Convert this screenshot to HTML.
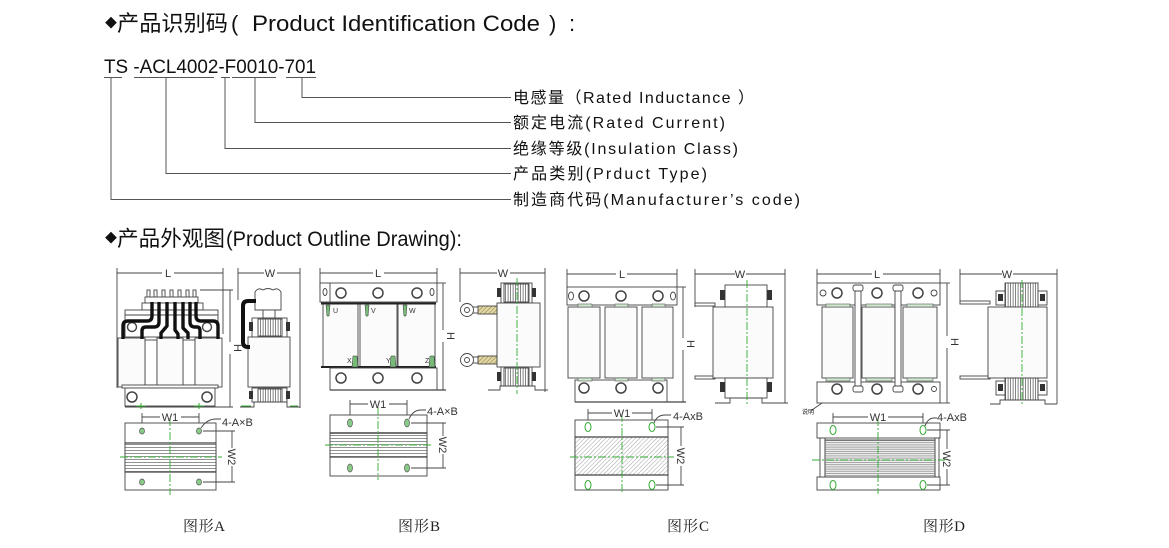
<!DOCTYPE html>
<html><head><meta charset="utf-8">
<style>
html,body{margin:0;padding:0;background:#fff;}
svg{display:block;}
.s{font-family:"Liberation Sans","Noto Sans CJK SC",sans-serif;fill:#111;}
.f{font-family:"Liberation Serif","Noto Serif CJK SC",serif;fill:#222;}
.d{font-family:"Liberation Sans",sans-serif;fill:#333;font-size:11px;stroke:none;}
</style></head><body>
<svg width="1169" height="548" viewBox="0 0 1169 548" xmlns="http://www.w3.org/2000/svg">
<defs>
<pattern id="vh" width="2.5" height="10" patternUnits="userSpaceOnUse"><rect width="2.5" height="10" fill="#fff"/><line x1="0.6" y1="0" x2="0.6" y2="10" stroke="#666" stroke-width="0.8"/></pattern>
<pattern id="hh" width="10" height="3" patternUnits="userSpaceOnUse"><rect width="10" height="3" fill="#fff"/><line x1="0" y1="0.6" x2="10" y2="0.6" stroke="#777" stroke-width="0.8"/></pattern>
<pattern id="hh2" width="10" height="2.2" patternUnits="userSpaceOnUse"><rect width="10" height="2.2" fill="#eee"/><line x1="0" y1="0.5" x2="10" y2="0.5" stroke="#888" stroke-width="0.7"/></pattern>
<pattern id="dh" width="3" height="3" patternUnits="userSpaceOnUse" patternTransform="rotate(45)"><rect width="3" height="3" fill="#fff"/><line x1="0" y1="0" x2="0" y2="3" stroke="#999" stroke-width="0.9"/></pattern>
<pattern id="br" width="3" height="3" patternUnits="userSpaceOnUse" patternTransform="rotate(45)"><rect width="3" height="3" fill="#e4d79c"/><line x1="0" y1="0" x2="0" y2="3" stroke="#666" stroke-width="0.8"/></pattern>
</defs>

<!-- ===== Text section ===== -->
<text class="s" x="105" y="27" font-size="12">◆</text>
<text class="s" x="117" y="31" font-size="22" textLength="111" lengthAdjust="spacingAndGlyphs">产品识别码</text>
<text class="s" x="231" y="31" font-size="22">(</text>
<text class="s" x="252" y="31" font-size="22" textLength="288" lengthAdjust="spacingAndGlyphs">Product Identification Code</text>
<text class="s" x="549" y="31" font-size="22">)</text>
<text class="s" x="569" y="31" font-size="22">:</text>

<text class="s" x="104" y="73" font-size="19" textLength="212" lengthAdjust="spacingAndGlyphs">TS -ACL4002-F0010-701</text>
<g stroke="#555" stroke-width="1" fill="none">
<line x1="104" y1="77.5" x2="122" y2="77.5"/>
<line x1="134" y1="77.5" x2="214" y2="77.5"/>
<line x1="221" y1="77.5" x2="230" y2="77.5"/>
<line x1="232" y1="77.5" x2="276" y2="77.5"/>
<line x1="286" y1="77.5" x2="316" y2="77.5"/>
<polyline points="302,78 302,97.5 511,97.5"/>
<polyline points="255,78 255,122.5 511,122.5"/>
<polyline points="225,78 225,148.5 511,148.5"/>
<polyline points="166,78 166,173.5 511,173.5"/>
<polyline points="111,78 111,199.5 511,199.5"/>
</g>
<text class="s" x="513" y="103" font-size="16" textLength="241" lengthAdjust="spacing">电感量（Rated Inductance ）</text>
<text class="s" x="513" y="128" font-size="16" textLength="212" lengthAdjust="spacing">额定电流(Rated Current)</text>
<text class="s" x="513" y="154" font-size="16" textLength="225" lengthAdjust="spacing">绝缘等级(Insulation Class)</text>
<text class="s" x="513" y="179" font-size="16" textLength="194" lengthAdjust="spacing">产品类别(Prduct Type)</text>
<text class="s" x="513" y="205" font-size="16" textLength="287" lengthAdjust="spacing">制造商代码(Manufacturer’s code)</text>

<text class="s" x="105" y="242" font-size="12">◆</text>
<text class="s" x="117" y="246" font-size="21.5" textLength="108" lengthAdjust="spacingAndGlyphs">产品外观图</text>
<text class="s" x="226" y="246" font-size="21" textLength="236" lengthAdjust="spacingAndGlyphs">(Product Outline Drawing):</text>

<!-- ===== Figure labels ===== -->
<text class="f" x="183" y="531" font-size="15" textLength="42">图形A</text>
<text class="f" x="398" y="531" font-size="15" textLength="42">图形B</text>
<text class="f" x="667" y="531" font-size="15" textLength="42">图形C</text>
<text class="f" x="923" y="531" font-size="15" textLength="42">图形D</text>

<!-- ===== Drawing A ===== -->
<g stroke="#444" stroke-width="0.9" fill="#fff">
 <line x1="117" y1="268" x2="117" y2="388"/>
 <line x1="223" y1="268" x2="223" y2="334"/>
 <line x1="117" y1="273" x2="162" y2="273"/>
 <line x1="174" y1="273" x2="223" y2="273"/>
 <line x1="200" y1="290" x2="233" y2="290"/>
 <line x1="230" y1="290" x2="230" y2="342"/>
 <line x1="230" y1="354" x2="230" y2="407"/>
 <line x1="125" y1="407" x2="233" y2="407"/>
 <rect x="147" y="290" width="3" height="7"/>
 <rect x="154" y="290" width="3" height="7"/>
 <rect x="162" y="290" width="3" height="7"/>
 <rect x="170" y="290" width="3" height="7"/>
 <rect x="178" y="290" width="3" height="7"/>
 <rect x="186" y="290" width="3" height="7"/>
 <rect x="193" y="290" width="3" height="7"/>
 <rect x="145" y="297" width="53" height="6"/>
 <rect x="142" y="303" width="61" height="7"/>
 <rect x="125" y="310" width="93" height="27"/>
 <line x1="125" y1="315" x2="218" y2="315"/>
 <circle cx="132" cy="327" r="4.5" stroke-width="1.4"/>
 <circle cx="207" cy="327" r="4.5" stroke-width="1.4"/>
 <rect x="145" y="340" width="12" height="45"/>
 <rect x="183" y="340" width="12" height="45"/>
 <rect x="118" y="338" width="27" height="49" fill="#fbfbfb"/>
 <rect x="157" y="338" width="26" height="49" fill="#fbfbfb"/>
 <rect x="195" y="338" width="27" height="49" fill="#fbfbfb"/>
 <rect x="122" y="385" width="96" height="3"/>
 <rect x="125" y="388" width="90" height="18"/>
 <circle cx="132" cy="397" r="5" stroke-width="1.5"/>
 <circle cx="207" cy="397" r="5" stroke-width="1.5"/>
</g>
<g stroke="#111" stroke-width="3.4" fill="none" stroke-linejoin="round">
 <path d="M152 302 V316 Q152 321 147 321 H128 Q123 321 123 326 V339"/>
 <path d="M159 302 V322 Q159 327 154 327 H146 Q142 327 142 331 V339"/>
 <path d="M167 302 V326 L161 333 V339"/>
 <path d="M175 302 V330 L178 334 V339"/>
 <path d="M183 302 V328 L188 333 V339"/>
 <path d="M190 302 V322 Q190 327 195 327 H197 Q200 327 200 331 V339"/>
 <path d="M196 302 V316 Q196 321 201 321 H213 Q218 321 218 326 V339"/>
</g>
<text class="d" x="168" y="277" text-anchor="middle">L</text>
<text class="d" x="0" y="0" text-anchor="middle" transform="translate(234,348) rotate(90)">H</text>
<g stroke="#444" stroke-width="0.9" fill="#fff">
 <line x1="238" y1="268" x2="238" y2="300"/>
 <line x1="300" y1="268" x2="300" y2="408"/>
 <line x1="238" y1="273" x2="264" y2="273"/>
 <line x1="277" y1="273" x2="300" y2="273"/>
 <path d="M255 292 Q258 287 263 290 Q268 287 273 290 Q278 287 281 292 L281 310 L255 310 Z"/>
 <rect x="263" y="310" width="12" height="8"/>
 <rect x="252" y="318" width="35" height="19"/>
 <rect x="258" y="319" width="24" height="17" fill="url(#vh)"/>
 <rect x="248" y="337" width="42" height="50" fill="#fbfbfb"/>
 <rect x="252" y="388" width="35" height="14"/>
 <rect x="258" y="389" width="24" height="13" fill="url(#vh)"/>
 <polyline points="240,407 254,407 254,402 287,402 287,407 300,407"/>
</g>
<g fill="#333">
 <rect x="249" y="322" width="4" height="9"/><rect x="286" y="322" width="4" height="9"/>
 <rect x="249" y="391" width="4" height="8"/><rect x="286" y="391" width="4" height="8"/>
</g>
<path d="M256 301 H248 Q243 301 243 306 V342 Q243 347 248 347 H250" stroke="#111" stroke-width="4" fill="none"/>
<text class="d" x="270" y="277" text-anchor="middle">W</text>
<g stroke="#3a3" stroke-width="1" fill="none">
 <line x1="136" y1="406" x2="146" y2="406"/><line x1="141" y1="403" x2="141" y2="409"/>
 <line x1="194" y1="406" x2="204" y2="406"/><line x1="199" y1="403" x2="199" y2="409"/>
 <line x1="241" y1="406" x2="251" y2="406"/><line x1="290" y1="406" x2="298" y2="406"/>
</g>
<g stroke="#444" stroke-width="0.9" fill="#fff">
 <line x1="142" y1="413" x2="142" y2="428"/>
 <line x1="199" y1="413" x2="199" y2="428"/>
 <line x1="142" y1="417" x2="160" y2="417"/>
 <line x1="181" y1="417" x2="199" y2="417"/>
 <rect x="125" y="423" width="91" height="67"/>
 <rect x="125" y="443" width="91" height="29" fill="url(#hh)"/>
 <line x1="125" y1="443" x2="216" y2="443" stroke-width="1.3"/>
 <line x1="125" y1="472" x2="216" y2="472" stroke-width="1.3"/>
 <line x1="203" y1="431" x2="235" y2="431"/>
 <line x1="203" y1="482" x2="235" y2="482"/>
 <line x1="232" y1="431" x2="232" y2="448"/>
 <line x1="232" y1="466" x2="232" y2="482"/>
 <path d="M201 428 Q207 419 216 419 H221" fill="none"/>
</g>
<g stroke="#3a3" stroke-width="0.9" stroke-dasharray="8 2 2 2" fill="none">
 <line x1="170" y1="418" x2="170" y2="495"/>
 <line x1="120" y1="457" x2="222" y2="457"/>
</g>
<g fill="#8c8" stroke="#555" stroke-width="0.7">
 <ellipse cx="142" cy="431" rx="2.5" ry="3"/><ellipse cx="199" cy="431" rx="2.5" ry="3"/>
 <ellipse cx="142" cy="482" rx="2.5" ry="3"/><ellipse cx="199" cy="482" rx="2.5" ry="3"/>
</g>
<text class="d" x="170" y="421" text-anchor="middle">W1</text>
<text class="d" x="222" y="426">4-A×B</text>
<text class="d" x="0" y="0" text-anchor="middle" transform="translate(228,457) rotate(90)">W2</text>

<!-- ===== Drawing B ===== -->
<g stroke="#444" stroke-width="0.9" fill="#fff">
 <line x1="320" y1="268" x2="320" y2="290"/>
 <line x1="437" y1="268" x2="437" y2="283"/>
 <line x1="320" y1="273" x2="373" y2="273"/>
 <line x1="384" y1="273" x2="437" y2="273"/>
 <rect x="320" y="283" width="117" height="19"/>
 <line x1="330" y1="283" x2="330" y2="302"/>
 <circle cx="341" cy="293" r="5" stroke-width="1.5"/>
 <circle cx="378" cy="293" r="5" stroke-width="1.5"/>
 <circle cx="417" cy="293" r="5" stroke-width="1.5"/>
 <ellipse cx="325" cy="292" rx="2" ry="3.5"/>
 <ellipse cx="432" cy="292" rx="2" ry="3.5"/>
 <rect x="323" y="304" width="35" height="63" fill="#fbfbfb"/>
 <rect x="360" y="304" width="37" height="63" fill="#fbfbfb"/>
 <rect x="398" y="304" width="37" height="63" fill="#fbfbfb"/>
 <line x1="321" y1="303.5" x2="436" y2="303.5" stroke="#222" stroke-width="2"/>
 <line x1="321" y1="367" x2="436" y2="367" stroke="#222" stroke-width="2"/>
 <rect x="330" y="368" width="107" height="22"/>
 <circle cx="341" cy="378" r="5" stroke-width="1.5"/>
 <circle cx="378" cy="378" r="5" stroke-width="1.5"/>
 <circle cx="417" cy="378" r="5" stroke-width="1.5"/>
 <line x1="330" y1="390" x2="446" y2="390" stroke-width="1.3"/>
 <line x1="437" y1="283" x2="446" y2="283"/>
 <line x1="443" y1="283" x2="443" y2="330"/>
 <line x1="443" y1="342" x2="443" y2="390"/>
</g>
<g fill="#7b7" stroke="#333" stroke-width="0.5">
 <path d="M326 305 h4 l-1 11 h-2 z"/><path d="M365 305 h4 l-1 11 h-2 z"/><path d="M403 305 h4 l-1 11 h-2 z"/>
 <path d="M353 356 h4 l1 11 h-6 z"/><path d="M391 356 h4 l1 11 h-6 z"/><path d="M430 356 h4 l1 11 h-6 z"/>
</g>
<g class="d" style="font-size:7px">
 <text x="333" y="313">U</text><text x="371" y="313">V</text><text x="409" y="313">W</text>
 <text x="347" y="363">X</text><text x="386" y="363">Y</text><text x="425" y="363">Z</text>
</g>
<text class="d" x="378" y="277" text-anchor="middle">L</text>
<text class="d" x="0" y="0" text-anchor="middle" transform="translate(447,336) rotate(90)">H</text>
<g stroke="#444" stroke-width="0.9" fill="#fff">
 <line x1="460" y1="268" x2="460" y2="302"/>
 <line x1="545" y1="268" x2="545" y2="392"/>
 <line x1="460" y1="273" x2="497" y2="273"/>
 <line x1="510" y1="273" x2="545" y2="273"/>
 <rect x="501" y="283" width="31" height="20"/>
 <rect x="504" y="284" width="25" height="18" fill="url(#vh)"/>
 <rect x="497" y="303" width="43" height="64" fill="#fbfbfb"/>
 <rect x="501" y="367" width="31" height="21"/>
 <rect x="504" y="368" width="25" height="19" fill="url(#vh)"/>
 <polyline points="488,390 500,390 500,386 535,386 535,390 548,390"/>
 <rect x="472" y="307" width="7" height="6"/>
 <rect x="478" y="306" width="19" height="8" fill="url(#br)"/>
 <circle cx="467" cy="310" r="6.5"/><circle cx="467" cy="310" r="2.5"/>
 <rect x="472" y="357" width="7" height="6"/>
 <rect x="478" y="356" width="19" height="8" fill="url(#br)"/>
 <circle cx="467" cy="360" r="6.5"/><circle cx="467" cy="360" r="2.5"/>
</g>
<g fill="#333">
 <rect x="497" y="288" width="4" height="9"/><rect x="532" y="288" width="4" height="9"/>
 <rect x="497" y="372" width="4" height="9"/><rect x="532" y="372" width="4" height="9"/>
</g>
<line x1="517" y1="278" x2="517" y2="394" stroke="#3a3" stroke-width="0.9" stroke-dasharray="8 2 2 2"/>
<text class="d" x="503" y="277" text-anchor="middle">W</text>
<g stroke="#444" stroke-width="0.9" fill="#fff">
 <line x1="350" y1="400" x2="350" y2="419"/>
 <line x1="407" y1="400" x2="407" y2="419"/>
 <line x1="350" y1="404" x2="368" y2="404"/>
 <line x1="389" y1="404" x2="407" y2="404"/>
 <rect x="330" y="415" width="97" height="61"/>
 <rect x="330" y="433" width="97" height="24" fill="url(#hh)"/>
 <line x1="330" y1="433" x2="427" y2="433" stroke-width="1.4"/>
 <line x1="330" y1="457" x2="427" y2="457" stroke-width="1.2"/>
 <line x1="411" y1="423" x2="446" y2="423"/>
 <line x1="411" y1="468" x2="446" y2="468"/>
 <line x1="443" y1="423" x2="443" y2="436"/>
 <line x1="443" y1="454" x2="443" y2="468"/>
 <path d="M409 419 Q413 410 421 410 H426" fill="none"/>
</g>
<g stroke="#3a3" stroke-width="0.9" stroke-dasharray="8 2 2 2" fill="none">
 <line x1="378" y1="407" x2="378" y2="480"/>
 <line x1="325" y1="445" x2="433" y2="445"/>
</g>
<g fill="#8c8" stroke="#555" stroke-width="0.7">
 <ellipse cx="350" cy="423" rx="2.5" ry="4"/><ellipse cx="407" cy="423" rx="2.5" ry="4"/>
 <ellipse cx="350" cy="468" rx="2.5" ry="4"/><ellipse cx="407" cy="468" rx="2.5" ry="4"/>
</g>
<text class="d" x="378" y="408" text-anchor="middle">W1</text>
<text class="d" x="427" y="415">4-A×B</text>
<text class="d" x="0" y="0" text-anchor="middle" transform="translate(439,445) rotate(90)">W2</text>

<!-- ===== Drawing C ===== -->
<g stroke="#444" stroke-width="0.9" fill="#fff">
 <line x1="567" y1="269" x2="567" y2="287"/>
 <line x1="677" y1="269" x2="677" y2="287"/>
 <line x1="567" y1="274" x2="616" y2="274"/>
 <line x1="627" y1="274" x2="677" y2="274"/>
 <rect x="567" y="287" width="110" height="18"/>
 <circle cx="584" cy="296" r="5" stroke-width="1.5"/>
 <circle cx="621" cy="296" r="5" stroke-width="1.5"/>
 <circle cx="658" cy="296" r="5" stroke-width="1.5"/>
 <ellipse cx="571" cy="296" rx="2.5" ry="4"/>
 <ellipse cx="673" cy="296" rx="2.5" ry="4"/>
 <rect x="568" y="307" width="32" height="71" fill="#fbfbfb"/>
 <rect x="605" y="307" width="32" height="71" fill="#fbfbfb"/>
 <rect x="642" y="307" width="31" height="71" fill="#fbfbfb"/>
 <rect x="575" y="380" width="92" height="22"/>
 <circle cx="584" cy="388" r="5" stroke-width="1.5"/>
 <circle cx="621" cy="388" r="5" stroke-width="1.5"/>
 <circle cx="658" cy="388" r="5" stroke-width="1.5"/>
 <line x1="575" y1="402" x2="686" y2="402" stroke-width="1.2"/>
 <line x1="677" y1="287" x2="686" y2="287"/>
 <line x1="683" y1="287" x2="683" y2="338"/>
 <line x1="683" y1="350" x2="683" y2="402"/>
</g>
<g fill="#cfe8cf" stroke="#555" stroke-width="0.6">
 <rect x="578" y="304" width="14" height="3"/><rect x="615" y="304" width="13" height="3"/><rect x="652" y="304" width="13" height="3"/>
 <rect x="578" y="378" width="14" height="3"/><rect x="615" y="378" width="13" height="3"/><rect x="652" y="378" width="13" height="3"/>
</g>
<text class="d" x="622" y="278" text-anchor="middle">L</text>
<text class="d" x="0" y="0" text-anchor="middle" transform="translate(687,344) rotate(90)">H</text>
<g stroke="#444" stroke-width="0.9" fill="#fff">
 <line x1="695" y1="269" x2="695" y2="307"/>
 <line x1="785" y1="269" x2="785" y2="403"/>
 <line x1="695" y1="274" x2="735" y2="274"/>
 <line x1="746" y1="274" x2="785" y2="274"/>
 <rect x="695" y="303" width="20" height="3"/>
 <rect x="695" y="376" width="20" height="3"/>
 <rect x="725" y="285" width="42" height="22"/>
 <rect x="713" y="307" width="60" height="71" fill="#fbfbfb"/>
 <rect x="725" y="378" width="42" height="20"/>
 <polyline points="715,403 730,403 730,398 762,398 762,403 788,403"/>
</g>
<g fill="#333">
 <rect x="720" y="290" width="5" height="10"/><rect x="767" y="290" width="5" height="10"/>
 <rect x="720" y="382" width="5" height="10"/><rect x="767" y="382" width="5" height="10"/>
</g>
<line x1="747" y1="280" x2="747" y2="405" stroke="#3a3" stroke-width="0.9" stroke-dasharray="8 2 2 2"/>
<text class="d" x="740" y="278" text-anchor="middle">W</text>
<g stroke="#444" stroke-width="0.9" fill="#fff">
 <line x1="588" y1="409" x2="588" y2="423"/>
 <line x1="652" y1="409" x2="652" y2="423"/>
 <line x1="588" y1="413" x2="612" y2="413"/>
 <line x1="632" y1="413" x2="652" y2="413"/>
 <rect x="575" y="420" width="93" height="70"/>
 <rect x="575" y="437" width="93" height="38" fill="url(#dh)"/>
 <line x1="575" y1="437" x2="668" y2="437" stroke-width="1.3"/>
 <line x1="575" y1="475" x2="668" y2="475" stroke-width="1.3"/>
 <line x1="656" y1="427" x2="684" y2="427"/>
 <line x1="656" y1="485" x2="684" y2="485"/>
 <line x1="681" y1="427" x2="681" y2="446"/>
 <line x1="681" y1="466" x2="681" y2="485"/>
 <path d="M654 423 Q657 415 665 415 H671" fill="none"/>
</g>
<g stroke="#3a3" stroke-width="0.9" stroke-dasharray="8 2 2 2" fill="none">
 <line x1="622" y1="414" x2="622" y2="494"/>
 <line x1="570" y1="457" x2="674" y2="457"/>
</g>
<g fill="#fff" stroke="#3a3" stroke-width="1">
 <ellipse cx="588" cy="427" rx="3" ry="4.5"/><ellipse cx="652" cy="427" rx="3" ry="4.5"/>
 <ellipse cx="588" cy="485" rx="3" ry="4.5"/><ellipse cx="652" cy="485" rx="3" ry="4.5"/>
</g>
<text class="d" x="622" y="417" text-anchor="middle">W1</text>
<text class="d" x="673" y="420">4-AxB</text>
<text class="d" x="0" y="0" text-anchor="middle" transform="translate(677,456) rotate(90)">W2</text>

<!-- ===== Drawing D ===== -->
<g stroke="#444" stroke-width="0.9" fill="#fff">
 <line x1="817" y1="269" x2="817" y2="283"/>
 <line x1="940" y1="269" x2="940" y2="283"/>
 <line x1="817" y1="274" x2="872" y2="274"/>
 <line x1="883" y1="274" x2="940" y2="274"/>
 <rect x="817" y="283" width="123" height="22"/>
 <circle cx="823" cy="293" r="3"/>
 <circle cx="934" cy="293" r="3"/>
 <circle cx="837" cy="293" r="5" stroke-width="1.5"/>
 <circle cx="877" cy="293" r="5" stroke-width="1.5"/>
 <circle cx="918" cy="293" r="5" stroke-width="1.5"/>
 <rect x="822" y="307" width="31" height="71" fill="#fbfbfb"/>
 <rect x="862" y="307" width="33" height="71" fill="#fbfbfb"/>
 <rect x="903" y="307" width="34" height="71" fill="#fbfbfb"/>
 <rect x="817" y="382" width="123" height="21"/>
 <circle cx="837" cy="389" r="5" stroke-width="1.5"/>
 <circle cx="877" cy="389" r="5" stroke-width="1.5"/>
 <circle cx="918" cy="389" r="5" stroke-width="1.5"/>
 <circle cx="934" cy="389" r="2.5"/>
 <rect x="855" y="290" width="6" height="98"/>
 <rect x="895" y="290" width="6" height="98"/>
 <rect x="853" y="285" width="10" height="6" rx="2"/>
 <rect x="893" y="285" width="10" height="6" rx="2"/>
 <rect x="853" y="386" width="10" height="6" rx="2"/>
 <rect x="893" y="386" width="10" height="6" rx="2"/>
 <line x1="940" y1="283" x2="950" y2="283"/>
 <line x1="940" y1="403" x2="950" y2="403"/>
 <line x1="947" y1="283" x2="947" y2="336"/>
 <line x1="947" y1="348" x2="947" y2="403"/>
 <line x1="812" y1="410" x2="822" y2="403"/>
</g>
<g fill="#cfe8cf" stroke="#555" stroke-width="0.6">
 <rect x="826" y="304" width="24" height="3"/><rect x="866" y="304" width="26" height="3"/><rect x="907" y="304" width="26" height="3"/>
 <rect x="826" y="378" width="24" height="3"/><rect x="866" y="378" width="26" height="3"/><rect x="907" y="378" width="26" height="3"/>
</g>
<text class="d" x="877" y="278" text-anchor="middle">L</text>
<text class="d" x="0" y="0" text-anchor="middle" transform="translate(951,342) rotate(90)">H</text>
<text class="s" x="802" y="414" font-size="6" fill="#555">说明</text>
<g stroke="#444" stroke-width="0.9" fill="#fff">
 <line x1="960" y1="269" x2="960" y2="304"/>
 <line x1="1057" y1="269" x2="1057" y2="404"/>
 <line x1="960" y1="274" x2="1002" y2="274"/>
 <line x1="1013" y1="274" x2="1057" y2="274"/>
 <rect x="960" y="301" width="30" height="3"/>
 <rect x="960" y="376" width="30" height="3"/>
 <rect x="1005" y="283" width="33" height="24" fill="url(#vh)"/>
 <rect x="988" y="307" width="59" height="71" fill="#fbfbfb"/>
 <rect x="1005" y="378" width="33" height="24" fill="url(#vh)"/>
 <polyline points="990,404 1000,404 1000,400 1045,400 1045,404 1057,404"/>
 <rect x="996" y="291" width="9" height="14"/>
 <rect x="1038" y="291" width="9" height="14"/>
 <rect x="996" y="381" width="9" height="14"/>
 <rect x="1038" y="381" width="9" height="14"/>
</g>
<g fill="#333">
 <rect x="998" y="294" width="5" height="7"/><rect x="1040" y="294" width="5" height="7"/>
 <rect x="998" y="384" width="5" height="7"/><rect x="1040" y="384" width="5" height="7"/>
</g>
<line x1="1022" y1="280" x2="1022" y2="405" stroke="#3a3" stroke-width="0.9" stroke-dasharray="8 2 2 2"/>
<text class="d" x="1007" y="278" text-anchor="middle">W</text>
<g stroke="#444" stroke-width="0.9" fill="#fff">
 <line x1="833" y1="413" x2="833" y2="426"/>
 <line x1="923" y1="413" x2="923" y2="426"/>
 <line x1="833" y1="417" x2="868" y2="417"/>
 <line x1="888" y1="417" x2="923" y2="417"/>
 <rect x="817" y="423" width="123" height="15"/>
 <rect x="817" y="477" width="123" height="13"/>
 <rect x="820" y="438" width="5" height="39"/>
 <rect x="935" y="438" width="4" height="39"/>
 <rect x="825" y="440" width="110" height="37" fill="url(#hh2)"/>
 <line x1="927" y1="430" x2="950" y2="430"/>
 <line x1="927" y1="485" x2="950" y2="485"/>
 <line x1="947" y1="430" x2="947" y2="449"/>
 <line x1="947" y1="469" x2="947" y2="485"/>
 <path d="M925 426 Q928 418 934 418 H937" fill="none"/>
</g>
<g stroke="#3a3" stroke-width="0.9" stroke-dasharray="8 2 2 2" fill="none">
 <line x1="878" y1="418" x2="878" y2="494"/>
 <line x1="812" y1="460" x2="945" y2="460"/>
</g>
<g fill="#fff" stroke="#3a3" stroke-width="1">
 <ellipse cx="833" cy="430" rx="3" ry="4.5"/><ellipse cx="923" cy="430" rx="3" ry="4.5"/>
 <ellipse cx="833" cy="485" rx="3" ry="4.5"/><ellipse cx="923" cy="485" rx="3" ry="4.5"/>
</g>
<text class="d" x="878" y="421" text-anchor="middle">W1</text>
<text class="d" x="937" y="421">4-AxB</text>
<text class="d" x="0" y="0" text-anchor="middle" transform="translate(943,459) rotate(90)">W2</text>
</svg>
</body></html>
